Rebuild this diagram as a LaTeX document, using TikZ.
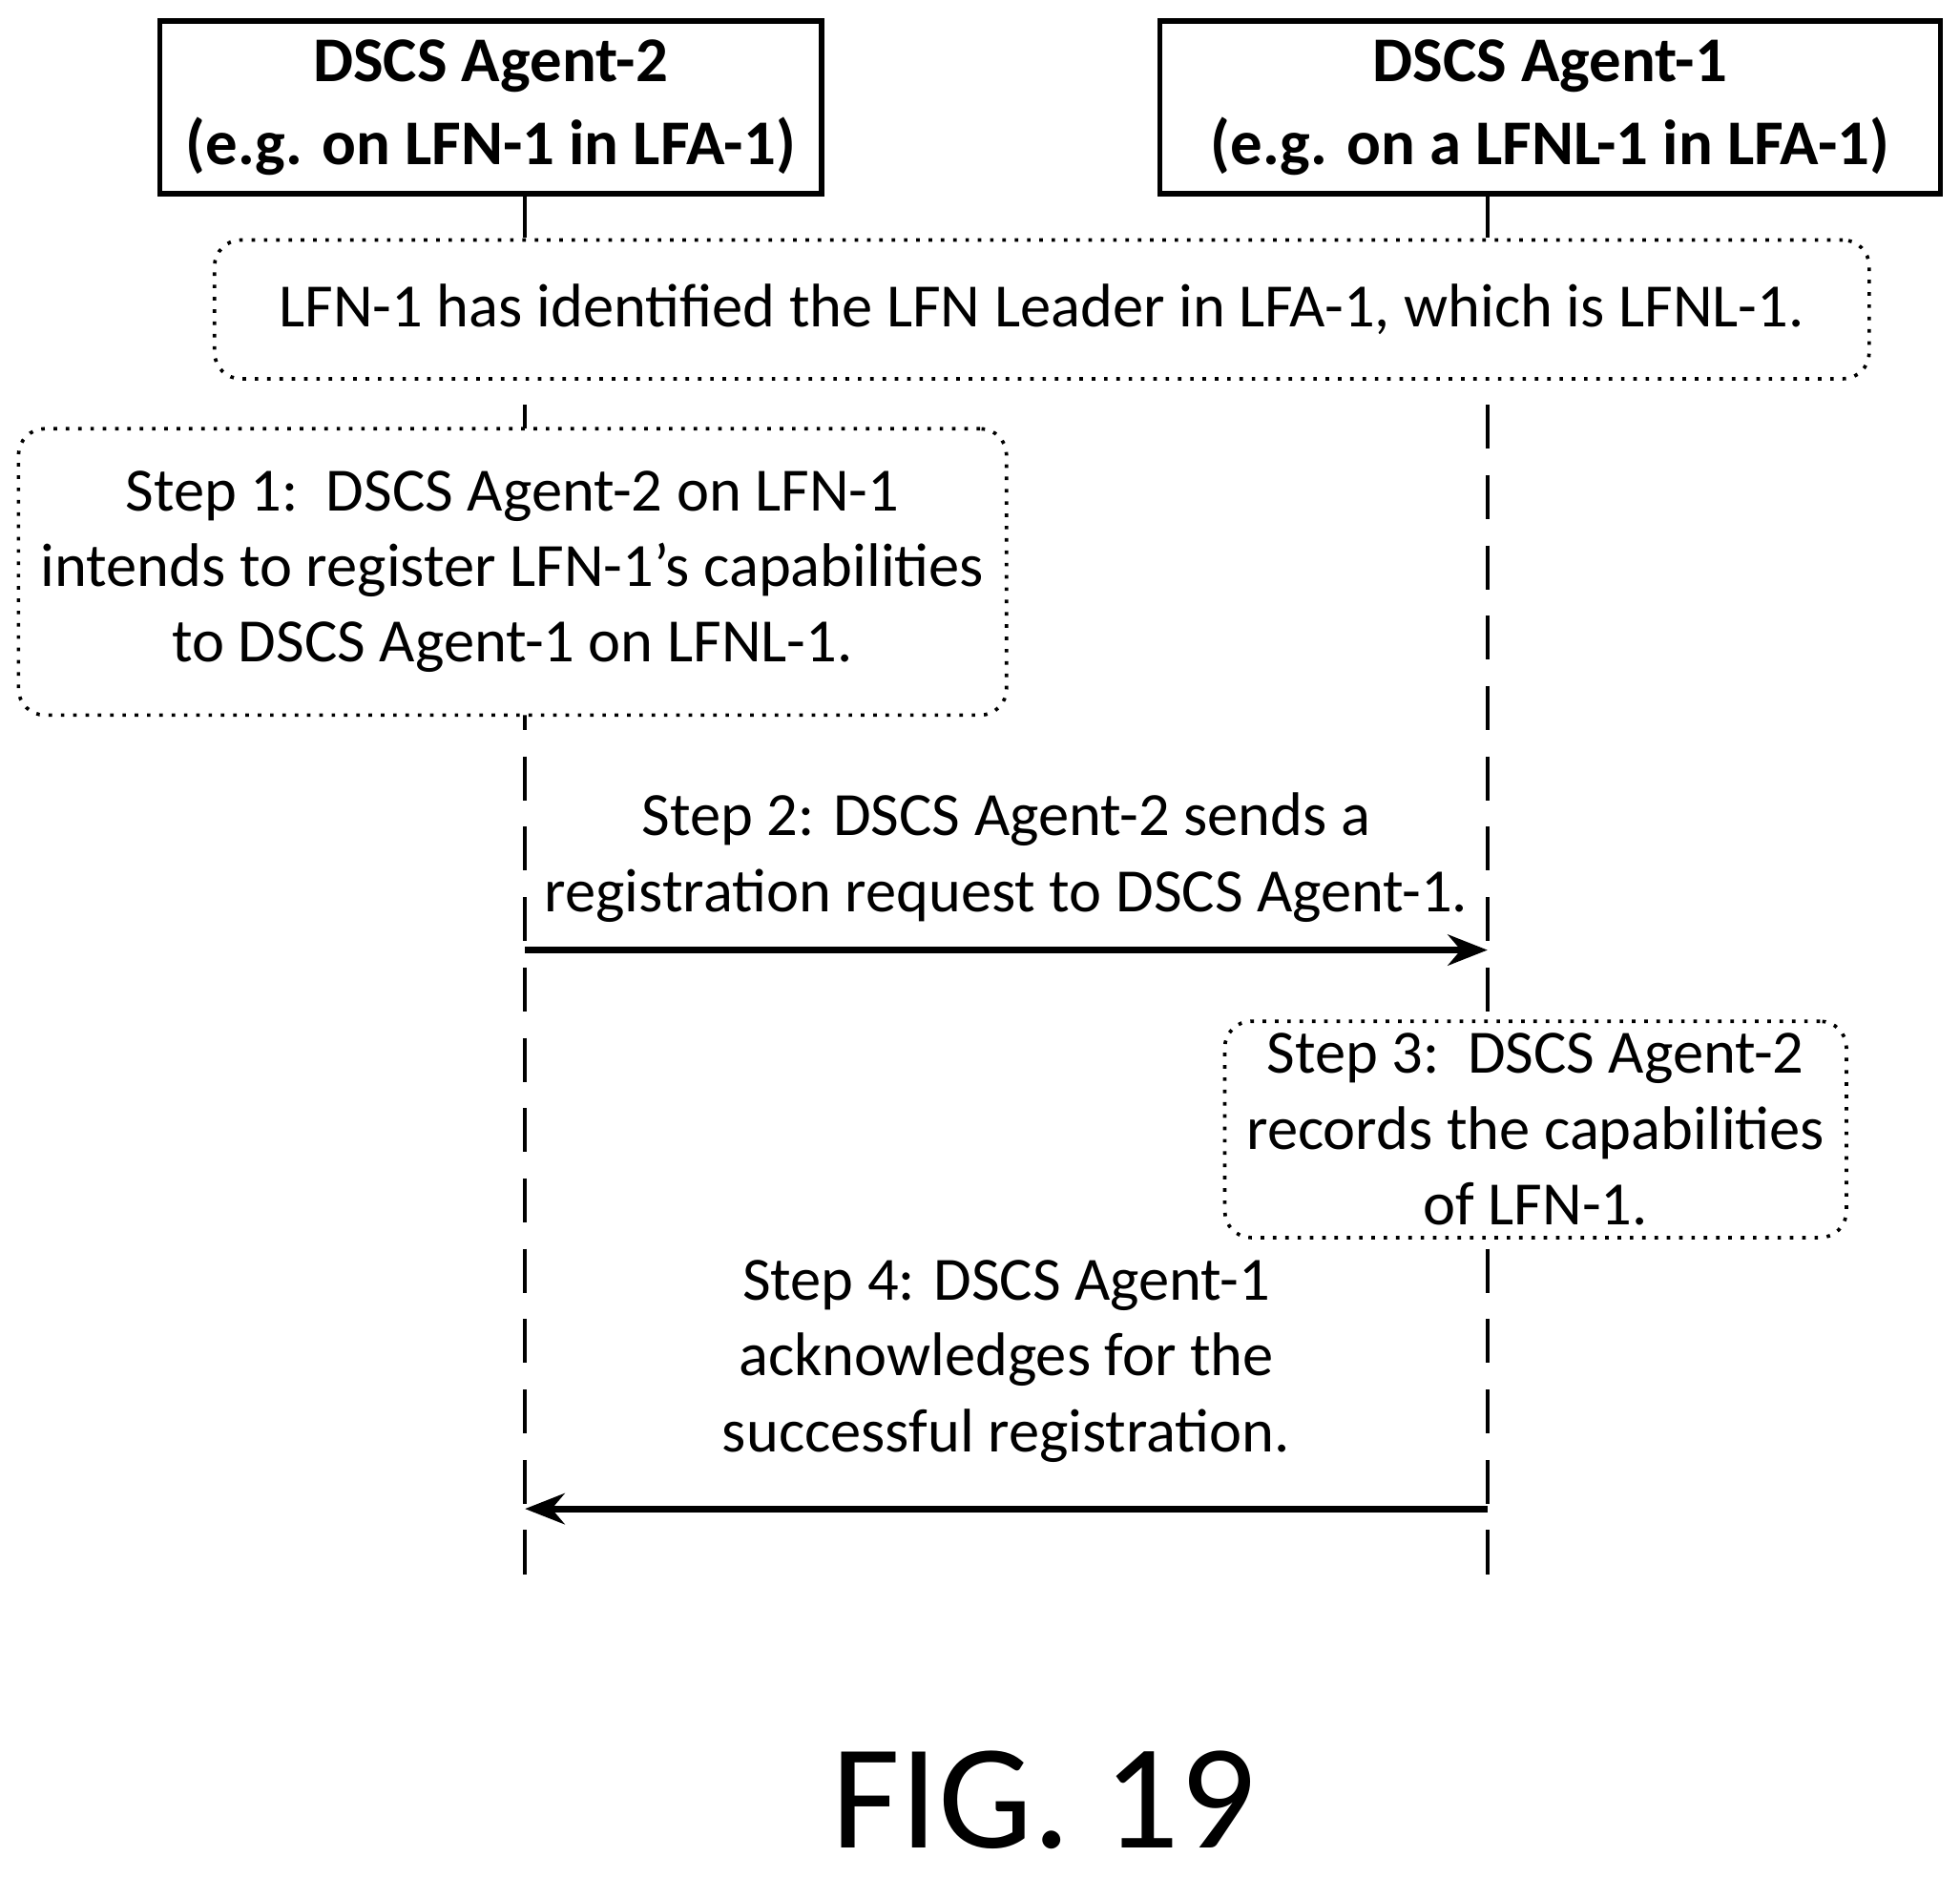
\documentclass[tikz,border=0pt]{standalone}
\usepackage{fontspec}
\setmainfont{Carlito}
\usetikzlibrary{arrows.meta}
\begin{document}
\begin{tikzpicture}[x=0.01cm,y=-0.01cm,
  hdr/.style={draw,line width=1.2pt,fill=white,font=\fontsize{14.5}{19}\selectfont\bfseries,align=center,inner sep=0},
  note/.style={draw,dotted,thick,rounded corners=6pt,fill=white,font=\fontsize{14}{17.2}\selectfont,align=center,inner sep=0},
  life/.style={dash pattern=on 10pt off 6pt,line width=1pt},
  msg/.style={line width=1.5pt,-{Stealth[length=9pt,width=7pt]}},
  lbl/.style={font=\fontsize{14}{17.2}\selectfont,align=center}]
\useasboundingbox (0,0) rectangle (1568,1502);
\coordinate (l2t) at (420,155); \coordinate (l2b) at (420,1262);
\coordinate (l1t) at (1190,155); \coordinate (l1b) at (1190,1262);
\draw[life] (l2t) -- (l2b);
\draw[life] (l1t) -- (l1b);
\node[hdr,minimum width=5.29cm,minimum height=1.38cm] (a2) at (392.5,86) {DSCS Agent-2\\(e.g. on LFN-1 in LFA-1)};
\node[hdr,minimum width=6.24cm,minimum height=1.38cm] (a1) at (1240,86) {DSCS Agent-1\\(e.g. on a LFNL-1 in LFA-1)};
\node[note,minimum width=13.23cm,minimum height=1.11cm] (lead) at (833.5,247.5) {LFN-1 has identified the LFN Leader in LFA-1, which is LFNL-1.};
\node[note,minimum width=7.9cm,minimum height=2.29cm] (s1) at (410,457.5) {Step 1:\ \ DSCS Agent-2 on LFN-1\\intends to register LFN-1's capabilities\\to DSCS Agent-1 on LFNL-1.};
\coordinate (m2a) at (420,760); \coordinate (m2b) at (1190,760);
\draw[msg] (m2a) -- (m2b);
\node[lbl] (t2) at (805,686) {Step 2: DSCS Agent-2 sends a\\registration request to DSCS Agent-1.};
\node[note,minimum width=4.97cm,minimum height=1.73cm] (s3) at (1228.5,903.5) {Step 3:\ \ DSCS Agent-2\\records the capabilities\\of LFN-1.};
\node[lbl] (t4) at (805,1089) {Step 4: DSCS Agent-1\\acknowledges for the\\successful registration.};
\coordinate (m4a) at (1190,1207); \coordinate (m4b) at (420,1207);
\draw[msg] (m4a) -- (m4b);
\node[font=\fontsize{34}{38}\selectfont] (fig) at (835,1440) {FIG. 19};
\end{tikzpicture}
\end{document}
